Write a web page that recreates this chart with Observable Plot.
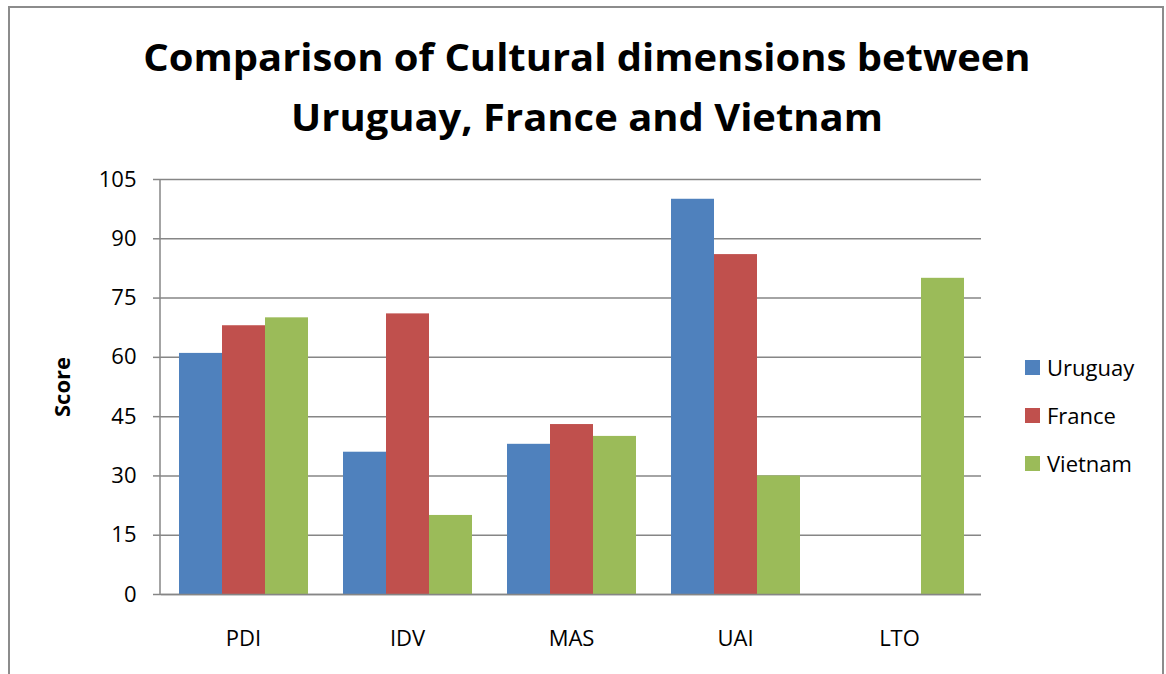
<!DOCTYPE html>
<html><head><meta charset="utf-8">
<script src="https://cdn.jsdelivr.net/npm/d3@7"></script>
<script src="https://cdn.jsdelivr.net/npm/@observablehq/plot@0.6"></script>
<style>
body{margin:0;background:#fff;}
#wrap{position:relative;width:1166px;height:674px;overflow:hidden;font-family:"Open Sans",sans-serif;color:#000;}
#border{position:absolute;left:8px;top:6px;width:1156px;height:800px;border:2px solid #8c8c8c;box-sizing:border-box;}
#title{position:absolute;left:0;width:1174px;top:27px;text-align:center;font-weight:bold;font-size:37px;line-height:60px;transform:scaleX(1.08);transform-origin:587px 0;}
#ylabel{position:absolute;left:61px;top:387px;transform:translate(-50%,-50%) rotate(-90deg);font-weight:bold;font-size:22px;white-space:nowrap;}
#legend{position:absolute;left:1025px;top:343px;}
.item{display:flex;align-items:center;height:48px;font-size:22px;}
.sw{width:15px;height:15px;margin-right:7px;}
#chart{position:absolute;left:0;top:0;}
</style></head>
<body>
<div id="wrap">
  <div id="border"></div>
  <div id="chart"></div>
  <div id="title">Comparison of Cultural dimensions between<br>Uruguay, France and Vietnam</div>
  <div id="ylabel">Score</div>
  <div id="legend"></div>
</div>
<script>
const categories = ["PDI", "IDV", "MAS", "UAI", "LTO"];
const series = ["Uruguay", "France", "Vietnam"];
const colors = ["#4F81BD", "#C0504D", "#9BBB59"];
const uruguay = [61, 36, 38, 100, 0];
const france = [68, 71, 43, 86, 0];
const vietnam = [70, 20, 40, 30, 80];
const yTicks = [0, 15, 30, 45, 60, 75, 90, 105];

const rows = [];
[uruguay, france, vietnam].forEach((vals, s) =>
  vals.forEach((v, i) => rows.push({category: categories[i], series: series[s], value: v})));

const gray = "#868686";
const mLeft = 160;
const chart = Plot.plot({
  width: 1166, height: 674,
  marginLeft: mLeft, marginRight: 184, marginTop: 179, marginBottom: 80,
  style: {fontFamily: "Open Sans", fontSize: "22px", color: "#000", background: "transparent", overflow: "visible"},
  fx: {domain: categories, padding: 0, label: null, axis: "bottom", tickSize: 0, tickPadding: 36},
  x: {domain: series, paddingInner: 0, paddingOuter: 0.368, axis: null},
  y: {domain: [0, 105], label: null},
  color: {domain: series, range: colors},
  marks: [
    Plot.gridY(yTicks, {stroke: gray, strokeOpacity: 1, strokeWidth: 1.5}),
    Plot.axisY(yTicks, {tickSize: 8, tickPadding: 17, stroke: gray, strokeWidth: 1.5, fill: "#000", label: null}),
    Plot.barY(rows, {fx: "category", x: "series", y: "value", fill: "series"}),
    Plot.ruleY([0], {stroke: gray, strokeWidth: 1.5})
  ]
});
// vertical value-axis line at the left edge of the plot frame, spanning the y scale's range
const yRange = chart.scale("y").range;
d3.select(chart).append("line")
  .attr("x1", mLeft).attr("x2", mLeft)
  .attr("y1", yRange[0]).attr("y2", yRange[1])
  .attr("stroke", gray).attr("stroke-width", 1.5);
document.getElementById("chart").appendChild(chart);

const legend = document.getElementById("legend");
series.forEach((s, i) => {
  const item = document.createElement("div");
  item.className = "item";
  const sw = document.createElement("div");
  sw.className = "sw";
  sw.style.background = colors[i];
  const label = document.createElement("span");
  label.textContent = s;
  item.appendChild(sw);
  item.appendChild(label);
  legend.appendChild(item);
});
</script>
</body></html>
